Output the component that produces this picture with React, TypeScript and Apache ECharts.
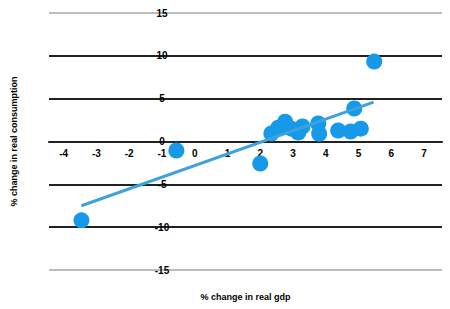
import React, { useEffect, useRef } from "react";
import * as echarts from "echarts";

const gdpChange = [-3.46, -0.56, 2.0, 2.34, 2.55, 2.76, 2.95, 3.16, 3.29, 3.77, 3.8, 4.38, 4.76, 5.07, 4.87, 5.48];
const consumptionChange = [-9.2, -1.05, -2.57, 0.93, 1.6, 2.3, 1.5, 1.05, 1.75, 2.1, 0.9, 1.28, 1.17, 1.5, 3.85, 9.33];
const trendX = [-3.46, 5.46];
const trendY = [-7.5, 4.6];
const xTickLabels = [-4, -3, -2, -1, 0, 1, 2, 3, 4, 5, 6, 7];
const xTitle = "% change in real gdp";
const yTitle = "% change in real consumption";

export default function App() {
  const ref = useRef<HTMLDivElement>(null);
  useEffect(() => {
    if (!ref.current) return;
    const chart = echarts.init(ref.current, undefined, { renderer: "svg" });
    const font = "Liberation Sans, Arial, sans-serif";
    chart.setOption({
      animation: false,
      backgroundColor: "#fff",
      grid: { left: 49, right: 8, top: 13, bottom: 39, containLabel: false, outerBoundsMode: "none" },
      xAxis: {
        type: "value",
        min: -4.45,
        max: 7.55,
        position: "bottom",
        offset: -128.5,
        name: xTitle,
        nameLocation: "middle",
        nameGap: 151,
        nameTextStyle: { color: "#000", fontWeight: "bold", fontSize: 9, fontFamily: font },
        axisLine: { show: true, onZero: false, lineStyle: { color: "#222", width: 2 } },
        axisTick: { show: false },
        splitLine: { show: false },
        axisLabel: {
          customValues: xTickLabels,
          color: "#000",
          fontWeight: "bold",
          fontSize: 10,
          fontFamily: font,
          margin: 7,
        },
      },
      yAxis: {
        type: "value",
        min: -15,
        max: 15,
        interval: 5,
        position: "left",
        offset: -113,
        name: yTitle,
        nameLocation: "middle",
        nameGap: 144,
        nameTextStyle: { color: "#000", fontWeight: "bold", fontSize: 9, fontFamily: font },
        axisLine: { show: false, onZero: false },
        axisTick: { show: false },
        axisLabel: {
          color: "#000",
          fontWeight: "bold",
          fontSize: 10,
          fontFamily: font,
          align: "center",
          margin: 0,
        },
        splitLine: {
          show: true,
          lineStyle: {
            color: ["#bdbdbd", "#222", "#222", "#222", "#222", "#222", "#bdbdbd"],
            width: 2,
          },
        },
      },
      series: [
        {
          type: "scatter",
          data: gdpChange.map((x, i) => [x, consumptionChange[i]]),
          symbolSize: 16,
          itemStyle: { color: "#1599e8", opacity: 1 },
          z: 2,
        },
        {
          type: "line",
          data: trendX.map((x, i) => [x, trendY[i]]),
          showSymbol: false,
          symbol: "none",
          lineStyle: { color: "#3ea2dd", width: 3 },
          z: 3,
        },
      ],
    });
    return () => chart.dispose();
  }, []);
  return <div ref={ref} style={{ width: 450, height: 309, position: "absolute", left: 0, top: 0 }} />;
}
